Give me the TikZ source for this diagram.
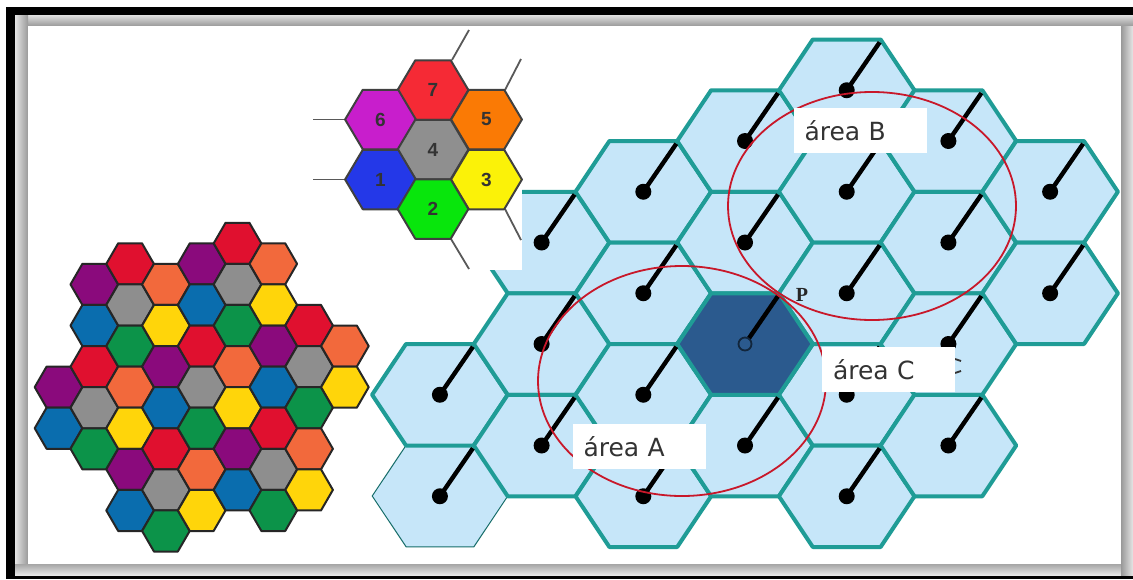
\documentclass[tikz,border=0pt]{standalone}
\usepackage{fontspec}
\setmainfont{DejaVu Sans}
\newfontfamily\numfont{Liberation Sans}
\newfontfamily\pfont{Liberation Serif}
\definecolor{cellc}{HTML}{C6E6F9}
\definecolor{edgec}{HTML}{1F9C96}
\definecolor{darkc}{HTML}{2B5A8E}
\definecolor{ringc}{HTML}{C8182A}
\definecolor{redc}{HTML}{E0102F}
\definecolor{purplec}{HTML}{8A0A7C}
\definecolor{orangec}{HTML}{F2693C}
\definecolor{grayc}{HTML}{8E8E8E}
\definecolor{yellowc}{HTML}{FFD50A}
\definecolor{bluec}{HTML}{0A6DAE}
\definecolor{greenc}{HTML}{0C9349}
\definecolor{smallred}{HTML}{F52A35}
\definecolor{smallpurple}{HTML}{C81ECC}
\definecolor{smallorange}{HTML}{FA7A05}
\definecolor{smallgray}{HTML}{8F8F8F}
\definecolor{smallblue}{HTML}{2438E8}
\definecolor{smallyellow}{HTML}{FBF208}
\definecolor{smallgreen}{HTML}{08E60C}
\newcommand{\hexcell}[5]{% x, y, half height, half top, options
  \path[#5] (#1-2*#4,#2) -- (#1-#4,#2-#3) -- (#1+#4,#2-#3) -- (#1+2*#4,#2)
    -- (#1+#4,#2+#3) -- (#1-#4,#2+#3) -- cycle;}
\tikzset{
  bigcell/.style={fill=cellc,draw=edgec,line width=4pt,line join=round},
  colorcell/.style={draw=black!85,line width=2pt,line join=round},
  smallcell/.style={draw=black!75,line width=2pt,line join=round},
  stub/.style={draw=black!65,line width=1.8pt},
  stick/.style={draw=black,line width=4.4pt},
  ring/.style={draw=ringc,line width=1.8pt},
  areabox/.style={fill=white,minimum height=45pt,text width=111pt,inner xsep=11pt,inner ysep=0pt,
    text=black!80,font=\fontsize{25}{25}\selectfont,anchor=center},
  hexnum/.style={font=\numfont\bfseries\fontsize{19}{19}\selectfont,text=black!80,inner sep=0pt}
}
\begin{document}
\begin{tikzpicture}[x=1pt,y=-1pt]
\useasboundingbox (0,0) rectangle (1133,579);
\fill[white] (0,0) rectangle (1133,579);
% frame
\fill[black] (6,7) rectangle (1133,579);
\shade[top color=black!12,bottom color=black!40] (15,15) rectangle (1133,26);
\shade[left color=black!10,right color=black!40] (15,15) rectangle (28,575);
\shade[top color=black!35,bottom color=black!10] (15,564) rectangle (1133,575);
\shade[left color=black!40,right color=black!10] (1121,26) rectangle (1133,575);
\fill[white] (28,26) rectangle (1121,564);
% big cells
\hexcell{440}{496}{50.75}{33.9}{fill=cellc,draw=edgec!70!black,line width=1pt}
\foreach \col/\rows in {-3/1,-2/{-2,0,2},-1/{-3,-1,1,3},0/{-4,-2,2},1/{-5,-3,-1,1,3},2/{-4,-2,0,2},3/{-3,-1}}{
  \foreach \row in \rows{
    \hexcell{745+101.7*\col}{344+50.75*\row}{50.75}{33.9}{bigcell}
  }
}
\hexcell{745}{344}{50.75}{33.9}{bigcell,fill=darkc}
\foreach \col/\rows in {-3/{1,3},-2/{-2,0,2},-1/{-3,-1,1,3},0/{-4,-2,2},1/{-5,-3,-1,1,3},2/{-4,-2,0,2},3/{-3,-1}}{
  \foreach \row in \rows{
    \draw[stick] (745+101.7*\col,344+50.75*\row) -- ++(33,-48);
    \fill[black] (745+101.7*\col,344+50.75*\row) circle (8pt);
  }
}
\draw[stick] (745,344) -- ++(33,-48);
\filldraw[fill=darkc,draw=black!30!darkc!60!black,line width=1.8pt] (745,344) circle (6.5pt);
% rings
\draw[ring] (682,381) ellipse (144pt and 115pt);
\draw[ring] (872,206) ellipse (144pt and 114pt);
% hidden letter
\draw[black!80,line width=1.8pt] (955,359) -- (961,361);
\draw[black!80,line width=1.8pt] (955,373) -- (961,371);
% labels
\node[areabox] (areaB) at (860,130.5) {área B};
\node[areabox] (areaC) at (888.5,369.5) {área C};
\node[areabox] (areaA) at (639,446.5) {área A};
\node[font=\pfont\bfseries\fontsize{20}{20}\selectfont,text=black!85,inner sep=0pt] (pointP) at (802,295) {P};
% small pattern
\fill[white] (310,27) rectangle (522,270);
\draw[stub] (452,60) -- (469,30);
\draw[stub] (505,90) -- (521,59);
\draw[stub] (346,119.5) -- (313,119.5);
\draw[stub] (346,179.5) -- (313,179.5);
\draw[stub] (505,209) -- (521,240);
\draw[stub] (451,239) -- (469,269);
\foreach \xpos/\ypos/\cellfill/\num in {433/90/smallred/7,380.5/119.5/smallpurple/6,486.5/119.5/smallorange/5,433/149.5/smallgray/4,380.5/179.5/smallblue/1,486.5/179.5/smallyellow/3,433/209/smallgreen/2}{
  \hexcell{\xpos}{\ypos}{29.75}{17.7}{smallcell,fill=\cellfill}
  \node[hexnum] (num\num) at (\xpos,\ypos) {\num};
}
% colour cluster
\foreach \col/\rows in {
  0/{7/purplec,9/bluec},
  1/{2/purplec,4/bluec,6/redc,8/grayc,10/greenc},
  2/{1/redc,3/grayc,5/greenc,7/orangec,9/yellowc,11/purplec,13/bluec},
  3/{2/orangec,4/yellowc,6/purplec,8/bluec,10/redc,12/grayc,14/greenc},
  4/{1/purplec,3/bluec,5/redc,7/grayc,9/greenc,11/orangec,13/yellowc},
  5/{0/redc,2/grayc,4/greenc,6/orangec,8/yellowc,10/purplec,12/bluec},
  6/{1/orangec,3/yellowc,5/purplec,7/bluec,9/redc,11/grayc,13/greenc},
  7/{4/redc,6/grayc,8/greenc,10/orangec,12/yellowc},
  8/{5/orangec,7/yellowc}}{
  \foreach \row/\cellfill in \rows{
    \hexcell{58.5+35.8*\col}{243.3+20.55*\row}{20.55}{11.9}{colorcell,fill=\cellfill}
  }
}
\end{tikzpicture}
\end{document}
